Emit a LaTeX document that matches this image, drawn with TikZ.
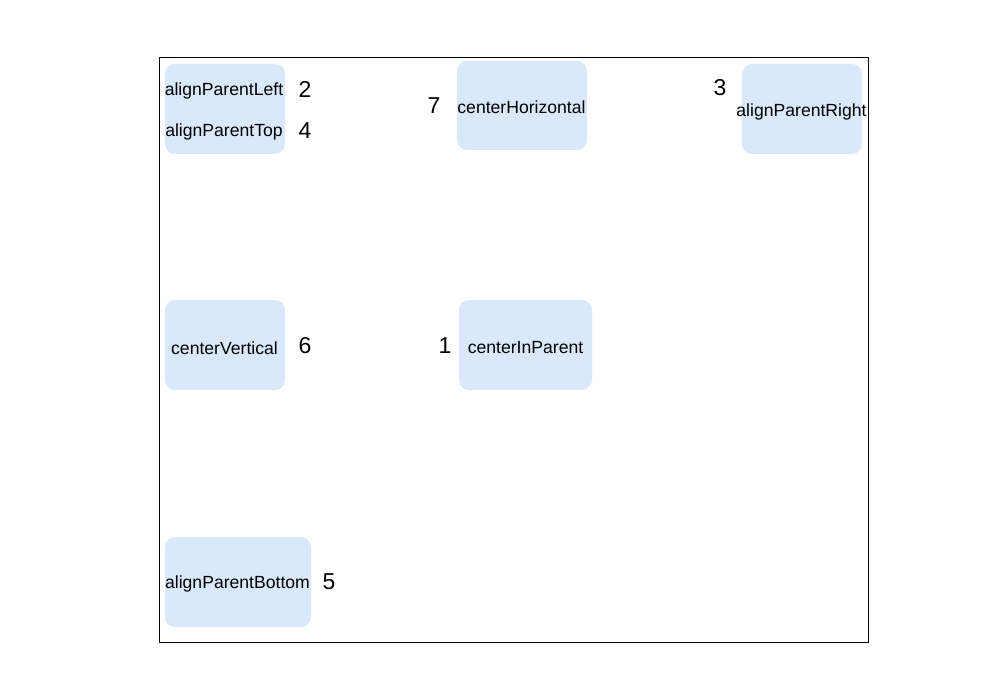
\documentclass[tikz,border=0pt]{standalone}
\usepackage{fontspec}
\setmainfont{Liberation Sans}
\definecolor{boxfill}{HTML}{DAE8FC}
\begin{document}
\begin{tikzpicture}[x=1pt,y=-1pt,
  box/.style={fill=boxfill,draw=none,rounded corners=10pt,inner sep=0pt},
  lbl/.style={inner sep=0pt,font=\fontsize{17.6}{21}\selectfont},
  num/.style={inner sep=0pt,font=\fontsize{23}{27}\selectfont}]
\useasboundingbox (0,0) rectangle (985,690);
\draw[line width=1pt] (159.5,57.5) rectangle (868,642);
% boxes
\node[box,minimum width=120pt,minimum height=90pt] (b1) at (225,109) {};
\node[box,minimum width=130pt,minimum height=89pt] (b2) at (522,105.5) {};
\node[box,minimum width=120pt,minimum height=90pt] (b3) at (802,109) {};
\node[box,minimum width=120pt,minimum height=90pt] (b4) at (225,345) {};
\node[box,minimum width=133pt,minimum height=90pt] (b5) at (525.5,345) {};
\node[box,minimum width=146pt,minimum height=90pt] (b6) at (238,582) {};
% labels
\node[lbl] (t1a) at (224,91) {alignParentLeft};
\node[lbl] (t1b) at (224,132) {alignParentTop};
\node[lbl] (t2) at (521.5,107.5) {centerHorizontal};
\node[lbl] (t3) at (801.5,111.5) {alignParentRight};
\node[lbl] (t4) at (224.5,348) {centerVertical};
\node[lbl] (t5) at (525.5,348) {centerInParent};
\node[lbl] (t6) at (237.5,584) {alignParentBottom};
% numbers
\node[num] (n2) at (305,89) {2};
\node[num] (n4) at (305,131) {4};
\node[num] (n7) at (434,106) {7};
\node[num] (n3) at (720,88) {3};
\node[num] (n6) at (305,346) {6};
\node[num] (n1) at (445,346) {1};
\node[num] (n5) at (329,582) {5};
\end{tikzpicture}
\end{document}
